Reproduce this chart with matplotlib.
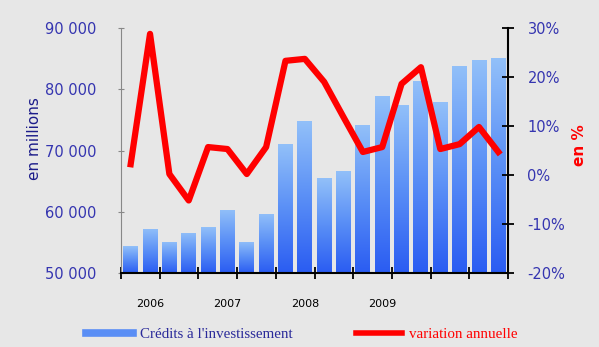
import matplotlib.pyplot as plt
import numpy as np
from matplotlib.colors import LinearSegmentedColormap
from matplotlib.lines import Line2D
from matplotlib.ticker import FuncFormatter

# quarterly investment credits (millions) and annual variation (%)
credits = [54400, 57200, 55100, 56600, 57500, 60300, 55100, 59700,
           71000, 74800, 65500, 66600, 74150, 78850, 77500, 81350,
           77900, 83800, 84750, 85100]
variation = [2.2, 28.8, 0.2, -5.2, 5.7, 5.3, 0.2, 5.7,
             23.3, 23.7, 19.0, 11.8, 4.7, 5.7, 18.6, 22.0,
             5.3, 6.3, 9.8, 4.7]
years = ['2006', '2007', '2008', '2009']
year_pos = [1, 5, 9, 13]

bg = '#e7e7e7'
tick_blue = '#3535b0'
x = np.arange(len(credits))

fig = plt.figure(figsize=(5.99, 3.47), dpi=100, facecolor=bg)
ax = fig.add_axes([121 / 599, 1 - 273 / 347, 387 / 599, 245 / 347])
ax.set_facecolor('none')

# bars with a vertical gradient, light at the top
grad = LinearSegmentedColormap.from_list('bar', ['#2a5cf2', '#5a8ff6', '#92c0f9'])
g = np.linspace(0, 1, 256).reshape(-1, 1)
bars = ax.bar(x, credits, width=0.77, color='none', edgecolor='none')
for b in bars:
    x0 = b.get_x()
    x1 = x0 + b.get_width()
    top = b.get_height()
    im = ax.imshow(g, cmap=grad, origin='lower', aspect='auto',
                   extent=[x0, x1, 50000, top], zorder=1)
    im.set_clip_path(b)
ax.set_xlim(-0.5, len(credits) - 0.5)
ax.set_ylim(50000, 90000)

ax.yaxis.set_major_formatter(FuncFormatter(lambda v, p: f'{int(v):,}'.replace(',', ' ')))
ax.set_yticks(np.arange(50000, 90001, 10000))
ax.tick_params(axis='y', colors='#888888', labelcolor=tick_blue, labelsize=10.5,
               direction='inout', length=5, width=0.8, pad=15)
ax.set_ylabel('en millions', color='#1c1c8a', fontsize=11)
ax.yaxis.set_label_coords(-0.205, 0.55)

ax.set_xticks(np.arange(-0.5, len(credits), 2))
ax.set_xticklabels([])
ax.set_xticks(year_pos, minor=True)
ax.set_xticklabels(years, minor=True)
ax.tick_params(axis='x', which='major', direction='inout', length=8, width=1.3, color='black')
ax.tick_params(axis='x', which='minor', length=0, labelsize=8, pad=19)

for s in ['top', 'right']:
    ax.spines[s].set_visible(False)
ax.spines['left'].set_color('#888888')
ax.spines['left'].set_linewidth(0.8)
ax.spines['bottom'].set_linewidth(1.5)

# annual variation on the right axis
ax2 = ax.twinx()
ax2.plot(x, variation, color='#ff0000', lw=4.5, zorder=3)
ax2.set_ylim(-20, 30)
ax2.set_yticks(np.arange(-20, 31, 10))
ax2.yaxis.set_major_formatter(FuncFormatter(lambda v, p: f'{int(v)}%'))
ax2.tick_params(axis='y', direction='inout', length=8, width=1.3, color='black',
                labelcolor=tick_blue, labelsize=10.5, pad=10)
for s in ['top', 'left', 'bottom']:
    ax2.spines[s].set_visible(False)
ax2.spines['right'].set_linewidth(1.5)
ax2.set_ylabel('en %', color='#ff0000', fontsize=11, fontweight='bold', rotation=90)
ax2.yaxis.set_label_coords(1.165, 0.52)

handles = [Line2D([], [], color='#5a8ef5', lw=5.5),
           Line2D([], [], color='#ff0000', lw=4)]
leg = fig.legend(handles, ["Crédits à l'investissement", 'variation annuelle'],
                 loc='center left', bbox_to_anchor=(86 / 599, 1 - 334 / 347),
                 ncol=2, frameon=False, handlelength=3.1, handletextpad=0.47,
                 columnspacing=4.25, borderpad=0, borderaxespad=0,
                 prop={'family': 'Liberation Serif', 'size': 10.8})
leg.get_texts()[0].set_color('#2a2a9a')
leg.get_texts()[1].set_color('#ff0000')

fig.savefig('out.png', dpi=100, facecolor=bg)
